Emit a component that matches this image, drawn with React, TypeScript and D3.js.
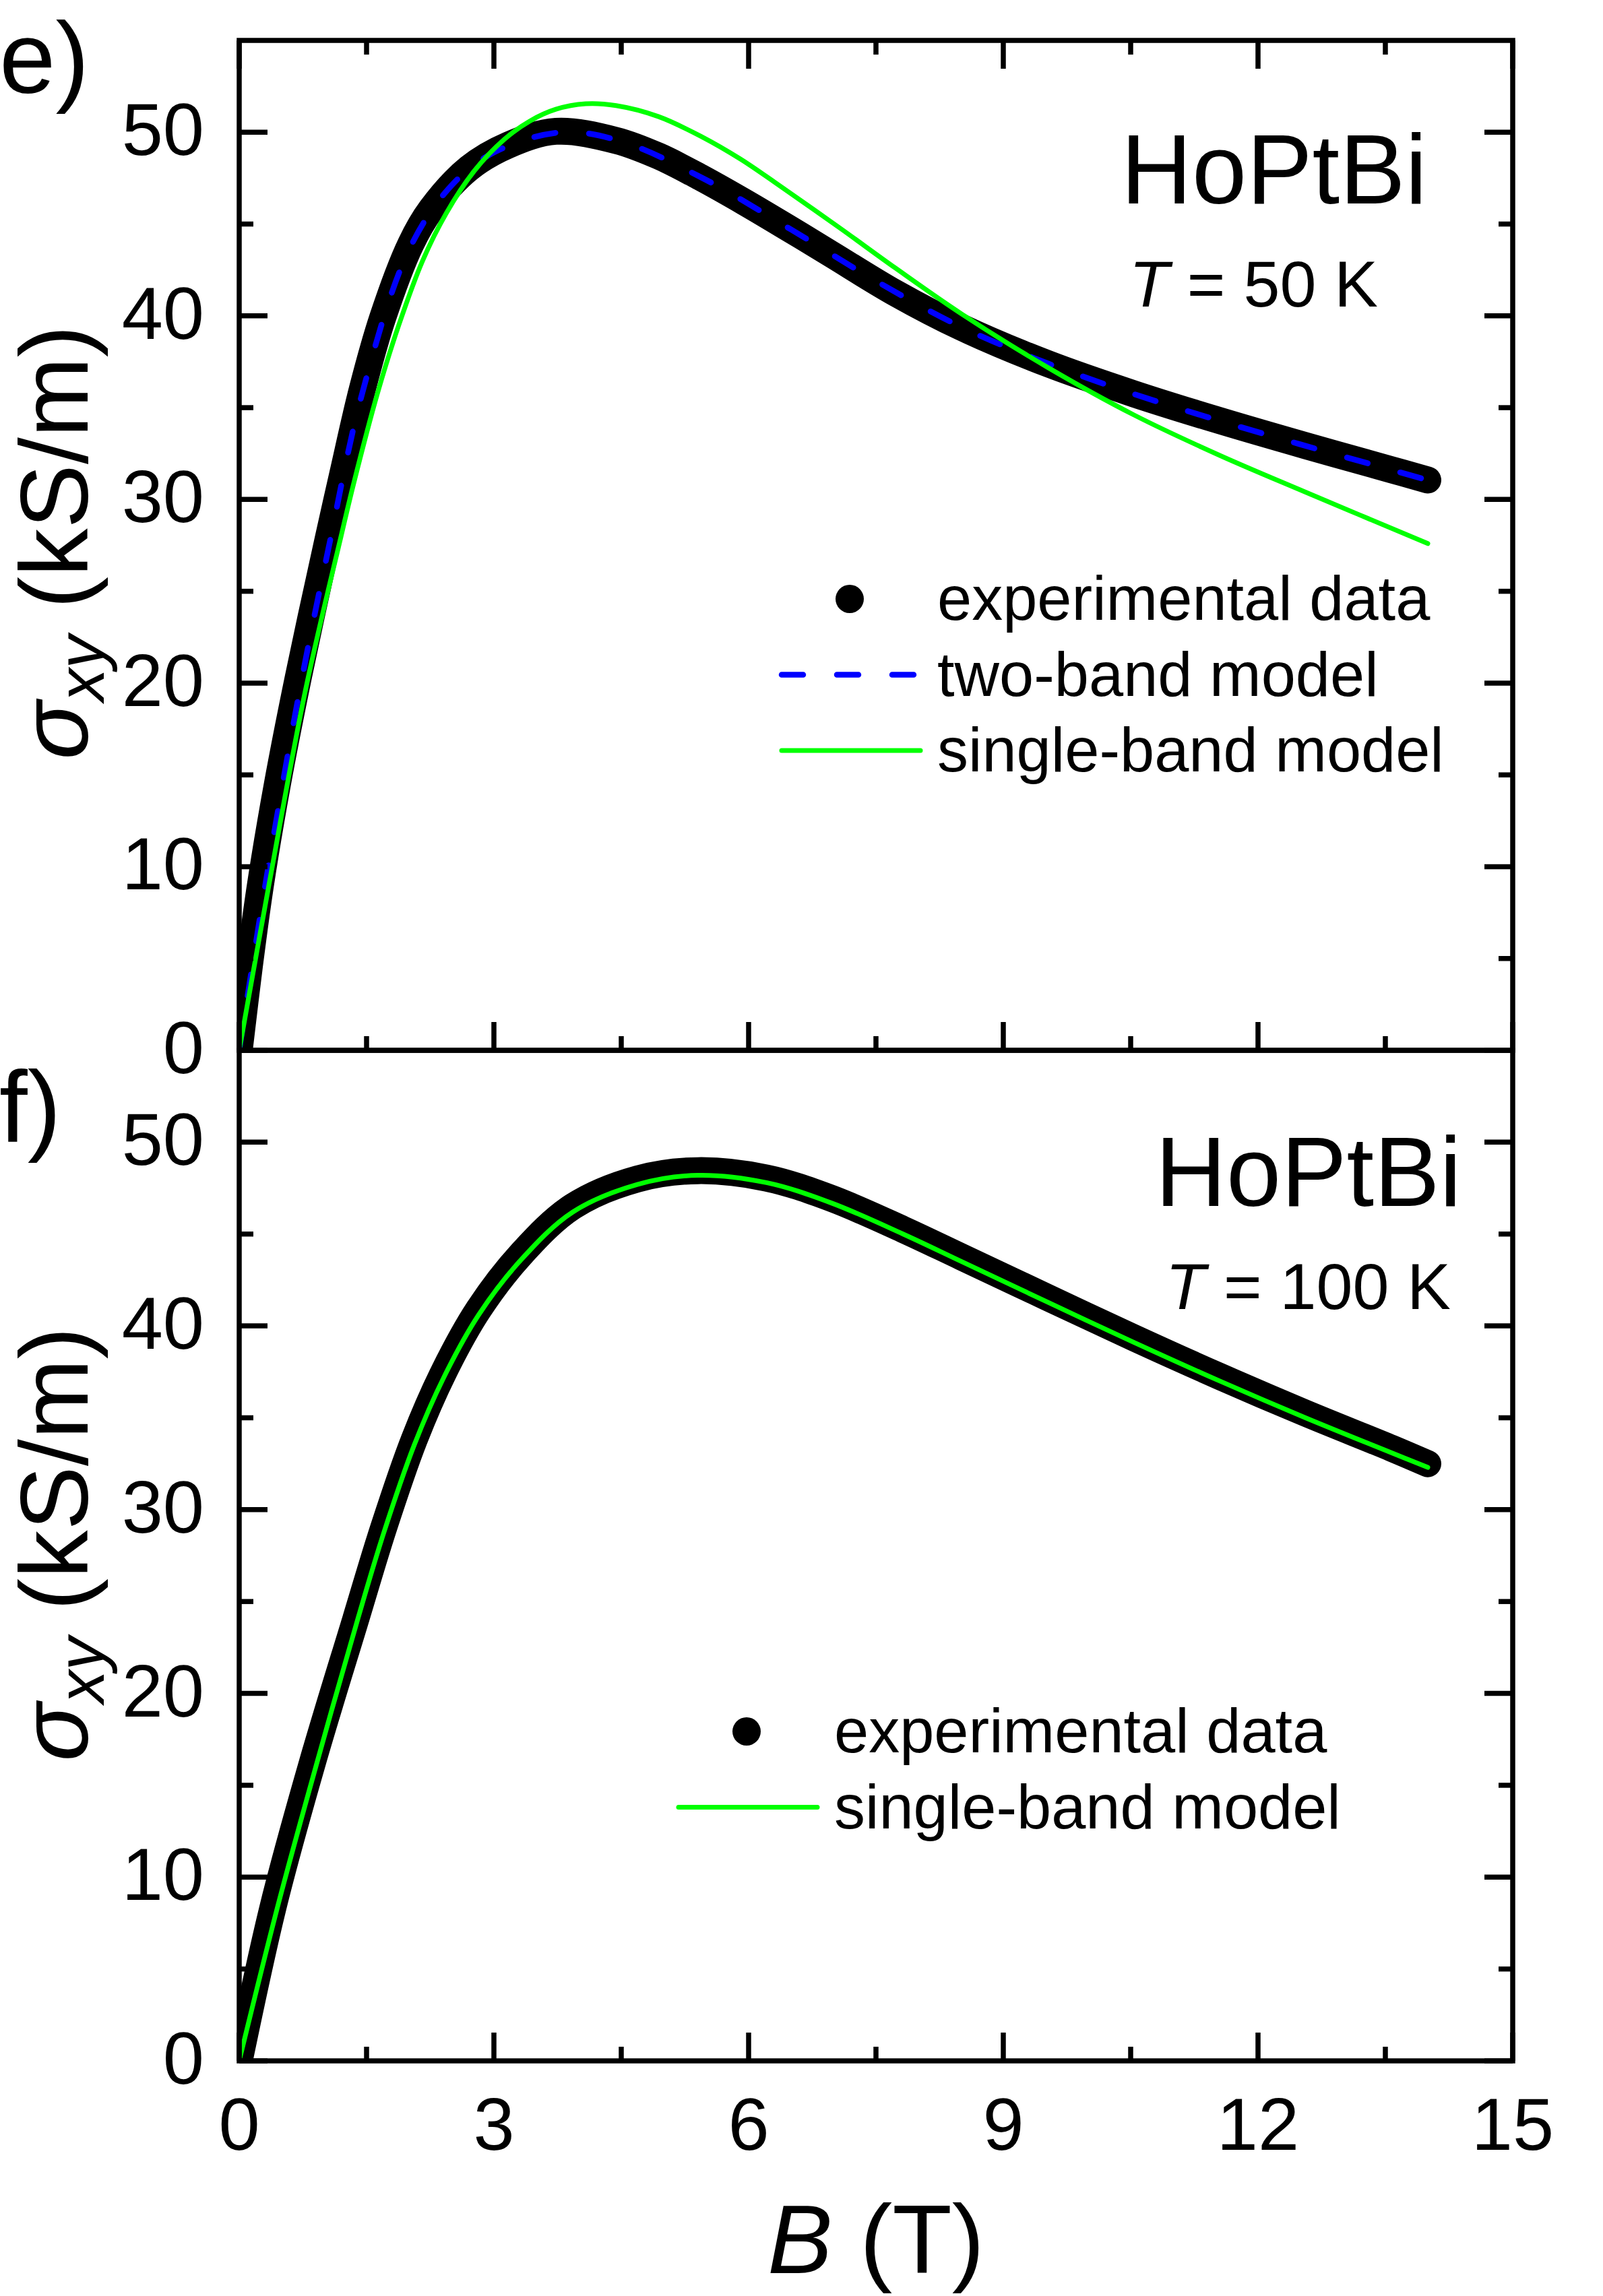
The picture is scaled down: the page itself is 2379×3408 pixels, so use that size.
import { curveCatmullRom, line, scaleLinear, ScaleLinear } from "d3";

// axis ticks
const fieldTicks = [0, 3, 6, 9, 12, 15];
const fieldMinor = [1.5, 4.5, 7.5, 10.5, 13.5];
const sigmaTicks = [0, 10, 20, 30, 40, 50];
const sigmaMinor = [5, 15, 25, 35, 45];

// T = 50 K, experimental data (B in T, sigma_xy in kS/m)
const expB50 = [0, 0.12, 0.25, 0.45, 0.7, 1.05, 1.22, 1.45, 1.69, 2.02, 2.26, 2.71, 3.17, 3.73, 4.44, 4.94, 5.45, 5.95, 6.46, 6.97, 7.73, 8.51, 9.52, 10.54, 11.55, 12.56, 13.57, 14.0];
const exp50 = [0, 4.6, 9.0, 14.5, 20.4, 27.9, 31.4, 36.0, 39.9, 43.9, 45.8, 48.05, 49.3, 50.05, 49.55, 48.7, 47.5, 46.2, 44.8, 43.37, 41.24, 39.37, 37.4, 35.75, 34.29, 32.93, 31.62, 31.06];

// T = 50 K, two-band model
const twoB50 = [0, 0.3, 0.72, 1.05, 1.45, 2.0, 2.5, 3.0, 3.8, 4.5, 5.5, 6.5, 7.5, 8.5, 9.5, 10.5, 11.5, 12.5, 13.5, 14.0];
const two50 = [0, 8.8, 19.8, 27.3, 35.8, 43.6, 47.1, 48.9, 50.0, 49.5, 47.4, 44.7, 41.9, 39.4, 37.45, 35.8, 34.35, 33.0, 31.7, 31.05];

// T = 50 K, single-band model
const oneB50 = [0, 0.35, 0.78, 1.2, 1.35, 1.63, 1.88, 2.16, 2.44, 2.77, 3.12, 3.42, 3.73, 4.08, 4.44, 4.94, 5.45, 5.9, 6.3, 7.07, 7.73, 8.51, 9.52, 10.54, 11.55, 12.56, 14.0];
const one50 = [0, 9.0, 19.6, 28.0, 30.9, 35.8, 39.5, 43.0, 45.6, 47.9, 49.6, 50.6, 51.25, 51.55, 51.45, 50.85, 49.75, 48.55, 47.3, 44.8, 42.6, 40.1, 37.2, 34.6, 32.4, 30.4, 27.6];

// T = 100 K, experimental data
const expB100 = [0, 0.4, 0.86, 1.37, 1.7, 2.06, 2.41, 2.82, 3.32, 3.93, 4.69, 5.4, 6.21, 6.97, 7.82, 8.51, 9.52, 10.54, 11.55, 12.56, 13.57, 14.0];
const exp100 = [0, 8.4, 16.2, 24.0, 29.0, 33.8, 37.5, 40.9, 43.9, 46.5, 48.0, 48.45, 48.05, 46.95, 45.25, 43.75, 41.55, 39.35, 37.25, 35.25, 33.35, 32.5];

// T = 100 K, single-band model
const oneB100 = [0, 0.47, 0.92, 1.4, 1.7, 2.06, 2.41, 2.82, 3.32, 3.93, 4.69, 5.4, 6.21, 6.97, 7.82, 8.51, 9.52, 10.54, 11.55, 12.56, 13.57, 14.0];
const one100 = [0, 8.7, 16.3, 24.1, 28.7, 33.5, 37.2, 40.6, 43.6, 46.2, 47.7, 48.2, 47.8, 46.7, 45.0, 43.5, 41.3, 39.1, 37.0, 35.0, 33.1, 32.3];

const FONT = "'Liberation Sans', Arial, sans-serif";
const LEFT = 355;
const RIGHT = 2245;
const AXIS_W = 7.5;

type Pt = [number, number];
const zip = (xs: number[], ys: number[]): Pt[] => xs.map((b, i) => [b, ys[i]]);

interface Curve {
    name: string;
    points: Pt[];
    kind: "marker" | "dash" | "solid";
}

interface PanelProps {
    id: string;
    top: number;
    bottom: number;
    curves: Curve[];
    topTicks: boolean;
    letter: string;
    letterY: number;
    labelY: number;
    nameX: number;
    nameY: number;
    tempValue: string;
    tempX: number;
    tempY: number;
    legendX: number;
    legendY: number;
}

const x = scaleLinear().domain([0, 15]).range([LEFT, RIGHT]);

function styleFor(kind: Curve["kind"]) {
    if (kind === "marker") return { stroke: "#000", strokeWidth: 40, dash: undefined };
    if (kind === "dash") return { stroke: "#0000ff", strokeWidth: 8.5, dash: "32 50" };
    return { stroke: "#00ff00", strokeWidth: 7, dash: undefined };
}

function Ticks({ y, top, bottom, topTicks }: { y: ScaleLinear<number, number>; top: number; bottom: number; topTicks: boolean }) {
    const marks: JSX.Element[] = [];
    const add = (v: number, len: number, key: string) => {
        marks.push(<line key={`l${key}`} x1={LEFT} x2={LEFT + len} y1={y(v)} y2={y(v)} />);
        marks.push(<line key={`r${key}`} x1={RIGHT} x2={RIGHT - len} y1={y(v)} y2={y(v)} />);
    };
    sigmaTicks.forEach((v) => add(v, 42, `M${v}`));
    sigmaMinor.forEach((v) => add(v, 21, `m${v}`));
    const addX = (v: number, len: number, key: string) => {
        marks.push(<line key={`b${key}`} x1={x(v)} x2={x(v)} y1={bottom} y2={bottom - len} />);
        if (topTicks) marks.push(<line key={`t${key}`} x1={x(v)} x2={x(v)} y1={top} y2={top + len} />);
    };
    fieldTicks.forEach((v) => addX(v, 42, `M${v}`));
    fieldMinor.forEach((v) => addX(v, 21, `m${v}`));
    return <g stroke="#000" strokeWidth={AXIS_W}>{marks}</g>;
}

function Panel(p: PanelProps) {
    const y = scaleLinear().domain([0, 55]).range([p.bottom, p.top]);
    const path = line<Pt>()
        .x((d) => x(d[0]))
        .y((d) => y(d[1]))
        .curve(curveCatmullRom.alpha(0.5));

    return (
        <g>
            <defs>
                <clipPath id={`clip-${p.id}`}>
                    <rect x={LEFT} y={p.top} width={RIGHT - LEFT} height={p.bottom - p.top} />
                </clipPath>
            </defs>
            <g clipPath={`url(#clip-${p.id})`}>
                {p.curves.map((c) => {
                    const s = styleFor(c.kind);
                    return (
                        <path
                            key={c.name}
                            d={path(c.points) ?? ""}
                            fill="none"
                            stroke={s.stroke}
                            strokeWidth={s.strokeWidth}
                            strokeDasharray={s.dash}
                            strokeLinecap="round"
                            strokeLinejoin="round"
                        />
                    );
                })}
            </g>
            <Ticks y={y} top={p.top} bottom={p.bottom} topTicks={p.topTicks} />
            <rect
                x={LEFT}
                y={p.top}
                width={RIGHT - LEFT}
                height={p.bottom - p.top}
                fill="none"
                stroke="#000"
                strokeWidth={AXIS_W}
            />
            {sigmaTicks.map((v) => (
                <text key={v} x={303} y={y(v) + 34} fontSize={110} textAnchor="end">
                    {v}
                </text>
            ))}
            <text x={-1} y={p.letterY} fontSize={150}>{p.letter}</text>
            <text transform={`translate(130, ${p.labelY}) rotate(-90)`} fontSize={143} textAnchor="middle">
                <tspan fontStyle="italic">σ</tspan>
                <tspan fontStyle="italic" fontSize={98} dy={24}>xy</tspan>
                <tspan dy={-24}> (kS/m)</tspan>
            </text>
            <text x={p.nameX} y={p.nameY} fontSize={146} textAnchor="end">HoPtBi</text>
            <text x={p.tempX} y={p.tempY} fontSize={97} textAnchor="end">
                <tspan fontStyle="italic">T</tspan> = {p.tempValue}
            </text>
            {p.curves.map((c, i) => {
                const s = styleFor(c.kind);
                const cy = p.legendY + i * 112.5;
                const cx = p.legendX;
                return (
                    <g key={`leg-${c.name}`}>
                        {c.kind === "marker" ? (
                            <circle cx={cx} cy={cy} r={21} fill="#000" />
                        ) : (
                            <line
                                x1={cx - 101}
                                x2={cx + 105}
                                y1={cy}
                                y2={cy}
                                stroke={s.stroke}
                                strokeWidth={s.strokeWidth}
                                strokeDasharray={s.dash}
                                strokeLinecap="round"
                            />
                        )}
                        <text x={cx + 130} y={cy + 31} fontSize={92}>{c.name}</text>
                    </g>
                );
            })}
        </g>
    );
}

export default function App() {
    const top50: Curve[] = [
        { name: "experimental data", points: zip(expB50, exp50), kind: "marker" },
        { name: "two-band model", points: zip(twoB50, two50), kind: "dash" },
        { name: "single-band model", points: zip(oneB50, one50), kind: "solid" },
    ];
    const bottom100: Curve[] = [
        { name: "experimental data", points: zip(expB100, exp100), kind: "marker" },
        { name: "single-band model", points: zip(oneB100, one100), kind: "solid" },
    ];

    return (
        <svg
            width={2379}
            height={3408}
            style={{ position: "absolute", left: 0, top: 0, background: "#fff" }}
            fontFamily={FONT}
        >
            <rect width={2379} height={3408} fill="#fff" />
            <Panel
                id="e"
                top={60}
                bottom={1559}
                curves={top50}
                topTicks={true}
                letter="e)"
                letterY={138}
                labelY={805}
                nameX={2118}
                nameY={302}
                tempValue="50 K"
                tempX={2045}
                tempY={455}
                legendX={1261}
                legendY={889}
            />
            <Panel
                id="f"
                top={1559}
                bottom={3059}
                curves={bottom100}
                topTicks={false}
                letter="f)"
                letterY={1695}
                labelY={2292}
                nameX={2169}
                nameY={1790}
                tempValue="100 K"
                tempX={2153}
                tempY={1943}
                legendX={1108}
                legendY={2570}
            />
            {fieldTicks.map((v) => (
                <text key={v} x={x(v)} y={3191} fontSize={110} textAnchor="middle">
                    {v}
                </text>
            ))}
            <text x={1300} y={3374} fontSize={145} textAnchor="middle">
                <tspan fontStyle="italic">B</tspan> (T)
            </text>
        </svg>
    );
}
